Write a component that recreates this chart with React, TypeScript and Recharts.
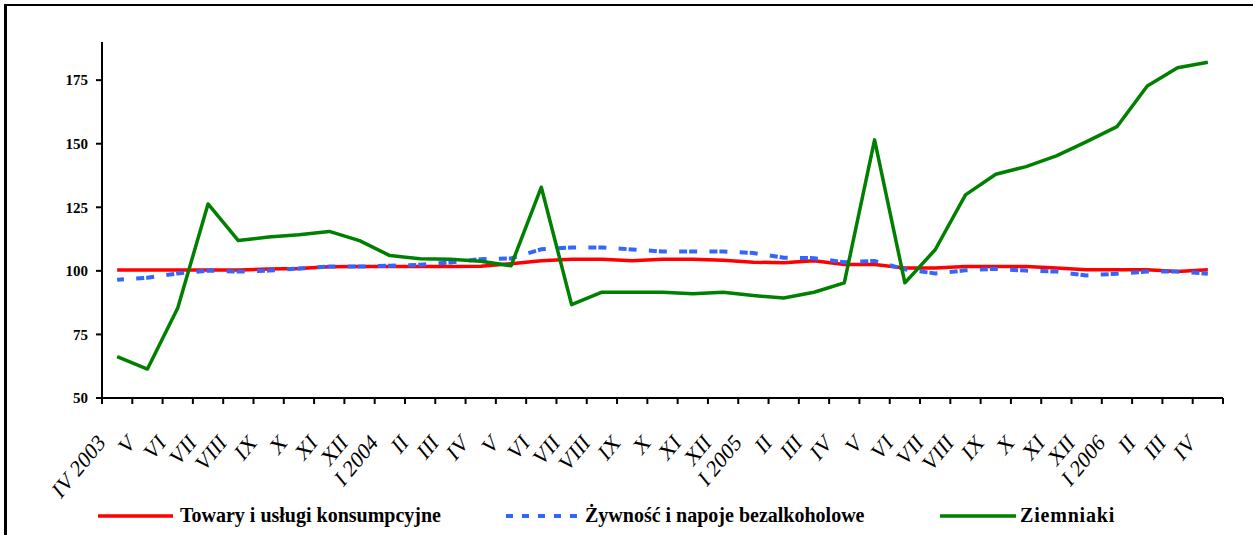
import React from 'react';
import { LineChart, Line, XAxis, YAxis } from 'recharts';

const categories = ['IV 2003','V','VI','VII','VIII','IX','X','XI','XII','I 2004','II','III','IV','V','VI','VII','VIII','IX','X','XI','XII','I 2005','II','III','IV','V','VI','VII','VIII','IX','X','XI','XII','I 2006','II','III','IV'];

const towary = [100.3,100.3,100.3,100.3,100.3,100.7,100.9,101.6,101.7,101.7,101.7,101.7,101.8,102.8,104.0,104.6,104.6,104.0,104.6,104.6,104.2,103.4,103.2,104.0,102.5,102.5,101.1,101.1,101.7,101.7,101.7,101.1,100.4,100.4,100.4,99.7,100.4];

const zywnosc = [96.5,97.3,99.0,100.1,99.7,100.1,100.9,101.7,101.7,102.0,102.4,103.3,104.6,104.9,108.5,109.2,109.2,108.4,107.6,107.6,107.6,107.0,105.2,105.0,103.4,103.9,100.6,99.0,100.2,100.8,100.1,99.7,98.2,98.9,99.7,99.7,98.9];

const ziemniaki = [66.3,61.4,85.4,126.3,111.9,113.3,114.2,115.5,111.9,106.0,104.8,104.6,103.8,102.0,132.9,86.7,91.6,91.6,91.6,91.0,91.6,90.3,89.3,91.6,95.3,151.5,95.3,108.3,129.9,138.0,141.0,145.2,150.8,156.7,172.7,179.9,182.0];

const yTicks = [50, 75, 100, 125, 150, 175];

const seriesNames = ['Towary i usługi konsumpcyjne', 'Żywność i napoje bezalkoholowe', 'Ziemniaki'];

const data = categories.map((c, i) => ({
  idx: i,
  towary: towary[i],
  zywnosc: zywnosc[i],
  ziemniaki: ziemniaki[i],
}));

const W = 1253;
const H = 535;
const PLOT_LEFT = 102;
const PLOT_RIGHT = 1223;
const BW = (PLOT_RIGHT - PLOT_LEFT) / categories.length;
const FONT = '"Liberation Serif", "Times New Roman", serif';

const XTick = (props: any) => {
  const { x, y, payload } = props;
  const i = Number(payload.value);
  const label = categories[i];
  const last = i === categories.length - 1;
  return (
    <g>
      <line x1={x - BW / 2} x2={x - BW / 2} y1={y} y2={y + 6} stroke="#000" strokeWidth={2} />
      {last && <line x1={x + BW / 2} x2={x + BW / 2} y1={y} y2={y + 6} stroke="#000" strokeWidth={2} />}
      <text
        transform={`translate(${x - 11},${y + 46}) scale(0.82,1) rotate(-45)`}
        textAnchor="end"
        fontFamily={FONT}
        fontSize={24}
        fill="#000"
      >
        {label}
      </text>
    </g>
  );
};

export default function App() {
  return (
    <div style={{ position: 'absolute', left: 0, top: 0, width: W, height: H, overflow: 'hidden', background: '#fff' }}>
      <div
        style={{
          position: 'absolute',
          left: 4,
          top: 4,
          width: 1400,
          height: 700,
          borderTop: '2px solid #000',
          borderLeft: '3px solid #000',
        }}
      />
      <div style={{ position: 'absolute', left: 0, top: 0 }}>
        <LineChart width={W} height={H} data={data} margin={{ top: 42, right: W - PLOT_RIGHT, left: PLOT_LEFT - 60, bottom: 37 }}>
          <XAxis
            dataKey="idx"
            type="category"
            scale="band"
            height={100}
            axisLine={{ stroke: '#000', strokeWidth: 2 }}
            tickLine={false}
            tickSize={0}
            tickMargin={0}
            interval={0}
            tick={<XTick />}
          />
          <YAxis
            width={60}
            domain={[50, 190]}
            ticks={yTicks}
            allowDataOverflow
            axisLine={{ stroke: '#000', strokeWidth: 2 }}
            tickLine={{ stroke: '#000', strokeWidth: 2 }}
            tickSize={6}
            tickMargin={8}
            tick={{ fill: '#000', fontFamily: FONT, fontWeight: 'bold', fontSize: 15 }}
          />
          <Line
            dataKey="towary"
            stroke="#ff0000"
            strokeWidth={3.5}
            dot={false}
            activeDot={false}
            strokeLinejoin="round"
            isAnimationActive={false}
          />
          <Line
            dataKey="zywnosc"
            stroke="#3366ff"
            strokeWidth={4}
            strokeDasharray="8 2 8 12.3"
            strokeDashoffset={11.2}
            dot={false}
            activeDot={false}
            isAnimationActive={false}
          />
          <Line
            dataKey="ziemniaki"
            stroke="#008000"
            strokeWidth={3.5}
            dot={false}
            activeDot={false}
            strokeLinejoin="round"
            isAnimationActive={false}
          />
        </LineChart>
      </div>
      <svg width={W} height={H} style={{ position: 'absolute', left: 0, top: 0, pointerEvents: 'none' }}>
        <line x1={98} x2={173} y1={516} y2={516} stroke="#ff0000" strokeWidth={3.5} />
        <text x={180} y={522} fontFamily={FONT} fontWeight="bold" fontSize={20} fill="#000">{seriesNames[0]}</text>
        <line x1={506} x2={580} y1={516} y2={516} stroke="#3366ff" strokeWidth={4} strokeDasharray="7 9" />
        <text x={585} y={522} fontFamily={FONT} fontWeight="bold" fontSize={20} fill="#000">{seriesNames[1]}</text>
        <line x1={940} x2={1016} y1={516} y2={516} stroke="#008000" strokeWidth={3.5} />
        <text x={1020} y={522} fontFamily={FONT} fontWeight="bold" fontSize={20} letterSpacing={0.8} fill="#000">{seriesNames[2]}</text>
      </svg>
    </div>
  );
}
